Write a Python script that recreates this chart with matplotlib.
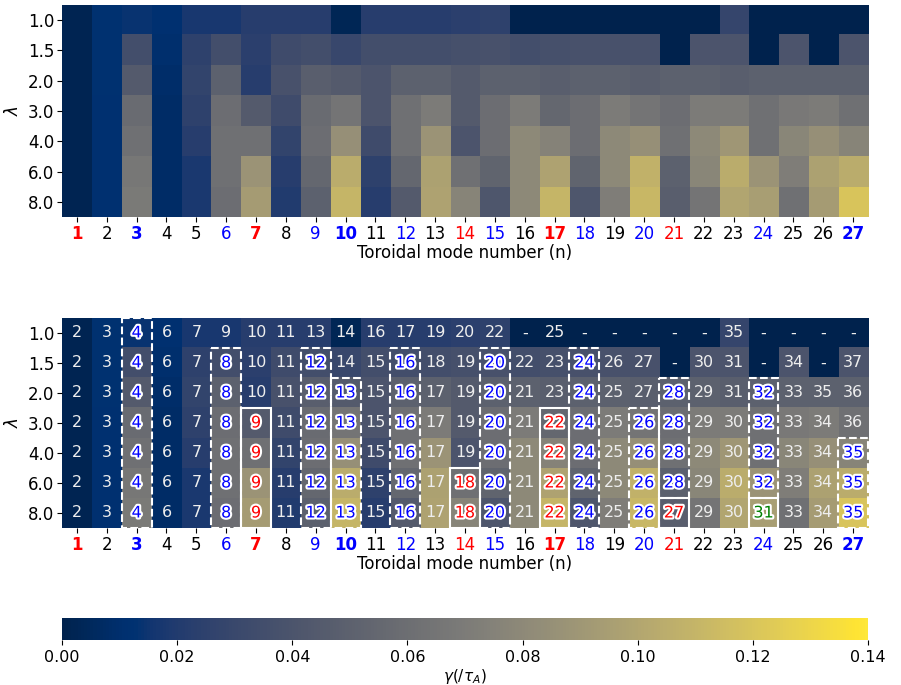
import numpy as np
import matplotlib
matplotlib.use("Agg")
import matplotlib.pyplot as plt
from matplotlib.patches import Rectangle
import matplotlib.patheffects as pe

# data
n_modes = list(range(1, 28))
lam = ["1.0", "1.5", "2.0", "3.0", "4.0", "6.0", "8.0"]

gamma = np.array([
    [0.002, 0.013, 0.014, 0.012, 0.017, 0.017, 0.022, 0.022, 0.022, 0.003, 0.022, 0.022, 0.022, 0.024, 0.025, 0.0, 0.0, 0.0, 0.0, 0.0, 0.0, 0.0, 0.028, 0.0, 0.0, 0.0, 0.0],
    [0.002, 0.013, 0.035, 0.010, 0.025, 0.035, 0.024, 0.033, 0.035, 0.030, 0.035, 0.035, 0.035, 0.037, 0.038, 0.035, 0.037, 0.038, 0.038, 0.038, 0.0, 0.040, 0.040, 0.0, 0.040, 0.0, 0.040],
    [0.002, 0.013, 0.045, 0.009, 0.027, 0.050, 0.022, 0.038, 0.048, 0.045, 0.040, 0.050, 0.050, 0.045, 0.050, 0.050, 0.048, 0.050, 0.050, 0.048, 0.050, 0.050, 0.048, 0.050, 0.050, 0.050, 0.050],
    [0.002, 0.012, 0.058, 0.008, 0.025, 0.060, 0.045, 0.033, 0.058, 0.065, 0.040, 0.062, 0.070, 0.045, 0.060, 0.070, 0.055, 0.060, 0.070, 0.065, 0.060, 0.070, 0.070, 0.062, 0.068, 0.070, 0.062],
    [0.002, 0.012, 0.062, 0.008, 0.022, 0.062, 0.062, 0.027, 0.060, 0.085, 0.033, 0.062, 0.088, 0.040, 0.060, 0.080, 0.075, 0.060, 0.080, 0.085, 0.062, 0.080, 0.090, 0.062, 0.078, 0.085, 0.077],
    [0.002, 0.012, 0.067, 0.008, 0.018, 0.062, 0.088, 0.022, 0.055, 0.105, 0.025, 0.055, 0.097, 0.062, 0.052, 0.080, 0.098, 0.052, 0.080, 0.108, 0.050, 0.078, 0.105, 0.088, 0.072, 0.097, 0.105],
    [0.002, 0.012, 0.069, 0.008, 0.018, 0.060, 0.093, 0.020, 0.050, 0.110, 0.022, 0.045, 0.098, 0.077, 0.042, 0.080, 0.110, 0.042, 0.072, 0.112, 0.048, 0.065, 0.100, 0.095, 0.062, 0.093, 0.120],
])

cell_labels = [
    "2 3 4 6 7 9 10 11 13 14 16 17 19 20 22 - 25 - - - - - 35 - - - -",
    "2 3 4 6 7 8 10 11 12 14 15 16 18 19 20 22 23 24 26 27 - 30 31 - 34 - 37",
    "2 3 4 6 7 8 10 11 12 13 15 16 17 19 20 21 23 24 25 27 28 29 31 32 33 35 36",
    "2 3 4 6 7 8 9 11 12 13 15 16 17 19 20 21 22 24 25 26 28 29 30 32 33 34 36",
    "2 3 4 6 7 8 9 11 12 13 15 16 17 19 20 21 22 24 25 26 28 29 30 32 33 34 35",
    "2 3 4 6 7 8 9 11 12 13 15 16 17 18 20 21 22 24 25 26 28 29 30 32 33 34 35",
    "2 3 4 6 7 8 9 11 12 13 15 16 17 18 20 21 22 24 25 26 27 29 30 31 33 34 35",
]
cell_labels = [r.split() for r in cell_labels]

# highlighted groups: (n, first row, last row, kind)
boxes = [
    (3, 0, 6, "dash"), (6, 1, 6, "dash"), (7, 3, 6, "solid"), (9, 1, 6, "dash"),
    (10, 2, 6, "dash"), (12, 1, 6, "dash"), (14, 5, 6, "solid"), (15, 1, 6, "dash"),
    (17, 3, 6, "solid"), (18, 1, 6, "dash"), (20, 3, 6, "dash"), (21, 2, 5, "dash"),
    (21, 6, 6, "solid"), (24, 2, 5, "dash"), (24, 6, 6, "green"), (27, 4, 6, "dash"),
]

tick_colors = ["red", "k", "blue", "k", "k", "blue", "red", "k", "blue", "blue",
               "k", "blue", "k", "red", "blue", "k", "red", "blue", "k", "blue",
               "red", "k", "k", "blue", "k", "k", "blue"]
bold_ticks = [1, 3, 7, 10, 17, 27]

fig = plt.figure(figsize=(9.01, 6.85), dpi=100)
ax1 = fig.add_axes([0.0688, 0.6832, 0.8946, 0.3095])
ax2 = fig.add_axes([0.0688, 0.2292, 0.8946, 0.3066])
cax = fig.add_axes([0.0688, 0.0657, 0.8946, 0.032])

for ax in (ax1, ax2):
    im = ax.imshow(gamma, cmap="cividis", vmin=0, vmax=0.14, aspect="auto",
                   extent=(0.5, 27.5, 6.5, -0.5))
    ax.set_xticks(n_modes)
    ax.set_xticklabels([str(n) for n in n_modes], fontsize=12)
    for lbl, c, n in zip(ax.get_xticklabels(), tick_colors, n_modes):
        lbl.set_color(c)
        if n in bold_ticks:
            lbl.set_fontweight("bold")
    ax.tick_params(pad=2)
    ax.set_yticks(range(7))
    ax.set_yticklabels(lam, fontsize=12)
    ax.set_ylabel(r"$\lambda$", fontsize=12)
    ax.set_xlabel("Toroidal mode number (n)", fontsize=12, labelpad=1)
    for s in ax.spines.values():
        s.set_visible(False)

# text in cells
special = {}
for n, r0, r1, kind in boxes:
    for r in range(r0, r1 + 1):
        special[(r, n)] = {"dash": "blue", "solid": "red", "green": "green"}[kind]

for r in range(7):
    for j, n in enumerate(n_modes):
        txt = cell_labels[r][j]
        if (r, n) in special:
            ax2.text(n, r, txt, ha="center", va="center", fontsize=11.5,
                     color=special[(r, n)],
                     path_effects=[pe.withStroke(linewidth=3, foreground="white")])
        else:
            ax2.text(n, r, txt, ha="center", va="center", fontsize=11.5, color="#eeeeee")

for n, r0, r1, kind in boxes:
    ls = "--" if kind == "dash" else "-"
    ax2.add_patch(Rectangle((n - 0.5, r0 - 0.5), 1, r1 - r0 + 1, fill=False,
                            edgecolor="white", lw=1.5, ls=ls, clip_on=False))

cb = fig.colorbar(im, cax=cax, orientation="horizontal")
cb.set_ticks([0, 0.02, 0.04, 0.06, 0.08, 0.10, 0.12, 0.14])
cb.ax.tick_params(labelsize=11.5)
cb.outline.set_visible(False)
cb.set_label(r"$\gamma(/\tau_A)$", fontsize=11, labelpad=2)

fig.savefig("out.png", dpi=100)
